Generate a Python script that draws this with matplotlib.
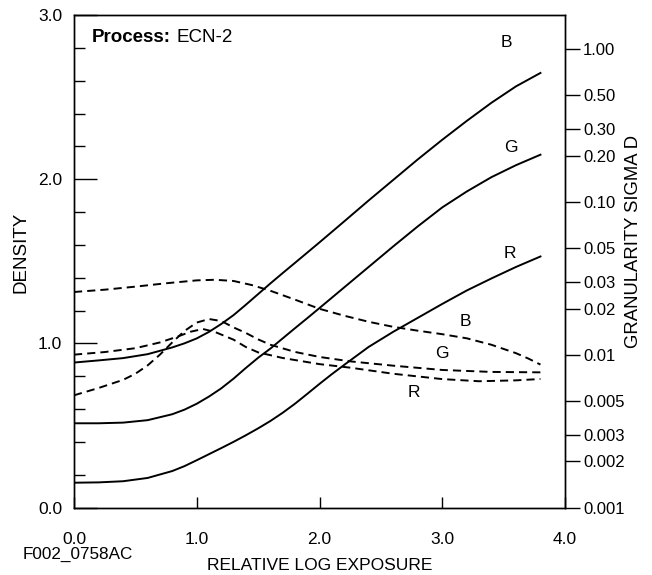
import matplotlib
matplotlib.use("Agg")
import matplotlib.pyplot as plt
from matplotlib.ticker import FixedLocator, FixedFormatter, NullLocator

plt.rcParams['font.family'] = ['Liberation Sans', 'DejaVu Sans']

# ---- Characteristic curves (density vs relative log exposure) ----
x_b = [0.0, 0.2, 0.4, 0.6, 0.8, 0.9, 1.0, 1.1, 1.2, 1.3, 1.4, 1.5, 1.6, 1.7, 1.8, 2.0,
       2.2, 2.4, 2.6, 2.8, 3.0, 3.2, 3.4, 3.6, 3.8]
d_b = [0.883, 0.896, 0.910, 0.934, 0.975, 1.000, 1.030, 1.070, 1.118, 1.172, 1.235, 1.300,
       1.365, 1.428, 1.490, 1.615, 1.742, 1.870, 1.995, 2.120, 2.240, 2.355, 2.465, 2.565, 2.647]

x_g = [0.0, 0.2, 0.4, 0.6, 0.8, 0.9, 1.0, 1.1, 1.2, 1.3, 1.4, 1.5, 1.6, 1.7, 1.8, 1.9, 2.0,
       2.2, 2.4, 2.6, 2.8, 3.0, 3.2, 3.4, 3.6, 3.8]
d_g = [0.513, 0.513, 0.517, 0.532, 0.568, 0.596, 0.632, 0.676, 0.726, 0.785, 0.850, 0.912,
       0.968, 1.030, 1.092, 1.153, 1.215, 1.340, 1.465, 1.590, 1.712, 1.828, 1.925, 2.012,
       2.085, 2.149]

x_r = [0.0, 0.2, 0.4, 0.6, 0.8, 0.9, 1.0, 1.1, 1.2, 1.3, 1.4, 1.5, 1.6, 1.7, 1.8, 1.9, 2.0,
       2.1, 2.2, 2.4, 2.6, 2.8, 3.0, 3.2, 3.4, 3.6, 3.8]
d_r = [0.151, 0.153, 0.160, 0.180, 0.222, 0.252, 0.288, 0.325, 0.362, 0.400, 0.440, 0.482,
       0.527, 0.577, 0.632, 0.692, 0.753, 0.812, 0.868, 0.978, 1.070, 1.155, 1.240, 1.322,
       1.395, 1.465, 1.529]

# ---- Granularity curves (sigma D, right log axis) ----
gx_b = [0.0, 0.25, 0.5, 0.75, 1.0, 1.15, 1.3, 1.45, 1.6, 1.8, 2.0, 2.2, 2.4, 2.6, 2.8,
        3.0, 3.2, 3.4, 3.6, 3.7, 3.8]
gs_b = [0.02570, 0.02661, 0.02786, 0.02931, 0.03062, 0.03090, 0.03034, 0.02851, 0.02618,
        0.02291, 0.01995, 0.01799, 0.01641, 0.01521, 0.01435, 0.01361, 0.01279, 0.01161,
        0.01023, 0.00944, 0.00861]

gx_g = [0.0, 0.2, 0.4, 0.5, 0.6, 0.7, 0.8, 0.9, 1.0, 1.1, 1.2, 1.3, 1.4, 1.5, 1.6, 1.8,
        2.0, 2.25, 2.6, 3.0, 3.4, 3.8]
gs_g = [0.00542, 0.00605, 0.00684, 0.00750, 0.00851, 0.01000, 0.01202, 0.01429, 0.01622,
        0.01710, 0.01660, 0.01507, 0.01387, 0.01259, 0.01161, 0.01042, 0.00966, 0.00904,
        0.00847, 0.00794, 0.00771, 0.00766]

gx_r = [0.0, 0.25, 0.5, 0.7, 0.85, 0.95, 1.05, 1.15, 1.3, 1.4, 1.5, 1.7, 2.0, 2.25, 2.6,
        3.0, 3.3, 3.6, 3.8]
gs_r = [0.01000, 0.01040, 0.01102, 0.01202, 0.01318, 0.01413, 0.01472, 0.01406, 0.01253,
        0.01122, 0.01035, 0.00951, 0.00867, 0.00822, 0.00750, 0.00692, 0.00670, 0.00679,
        0.00693]

x_ticks = [0.0, 1.0, 2.0, 3.0, 4.0]
x_labels = ["0.0", "1.0", "2.0", "3.0", "4.0"]
y_major = [0.0, 1.0, 2.0, 3.0]
y_labels = ["0.0", "1.0", "2.0", "3.0"]
y_minor = [0.2, 0.4, 0.6, 0.8, 1.2, 1.4, 1.6, 1.8, 2.2, 2.4, 2.6, 2.8]
r_ticks = [1.0, 0.5, 0.3, 0.2, 0.1, 0.05, 0.03, 0.02, 0.01, 0.005, 0.003, 0.002, 0.001]
r_labels = ["1.00", "0.50", "0.30", "0.20", "0.10", "0.05", "0.03", "0.02", "0.01",
            "0.005", "0.003", "0.002", "0.001"]

W, H = 652, 575
fig = plt.figure(figsize=(W / 100, H / 100), dpi=100)
ax = fig.add_axes([74 / W, 1 - 507.5 / H, (565 - 74) / W, (507.5 - 15) / H])

lw = 1.4
dash = (0, (4.2, 2.6))

for xs, ys in [(x_b, d_b), (x_g, d_g), (x_r, d_r)]:
    ax.plot(xs, ys, color='black', lw=lw, solid_joinstyle='round')

ax.set_xlim(0, 4)
ax.set_ylim(0, 3)
ax.xaxis.set_major_locator(FixedLocator(x_ticks))
ax.xaxis.set_major_formatter(FixedFormatter(x_labels))
ax.yaxis.set_major_locator(FixedLocator(y_major))
ax.yaxis.set_major_formatter(FixedFormatter(y_labels))
ax.yaxis.set_minor_locator(FixedLocator(y_minor))
ax.tick_params(axis='x', which='major', direction='in', length=8, width=1.0,
               labelsize=12.5, pad=17.5)
ax.tick_params(axis='y', which='major', direction='in', length=16.5, width=1.0,
               labelsize=12.5, pad=8.5)
ax.tick_params(axis='y', which='minor', direction='in', length=8, width=1.0)
for sp in ax.spines.values():
    sp.set_linewidth(1.0)

ax2 = ax.twinx()
ax2.set_yscale('log')
ax2.set_ylim(0.001, 10 ** ((508 - 15) / 153 - 3))
for xs, ys in [(gx_b, gs_b), (gx_g, gs_g), (gx_r, gs_r)]:
    ax2.plot(xs, ys, color='black', lw=lw, linestyle=dash)
ax2.yaxis.set_major_locator(FixedLocator(r_ticks))
ax2.yaxis.set_major_formatter(FixedFormatter(r_labels))
ax2.yaxis.set_minor_locator(NullLocator())
ax2.tick_params(axis='y', which='major', direction='out', length=11, width=1.0,
                labelsize=12, pad=2)
for sp in ax2.spines.values():
    sp.set_linewidth(1.0)

# curve labels
for tx, ty, s in [(3.52, 2.83, "B"), (3.56, 2.19, "G"), (3.55, 1.55, "R"),
                  (3.19, 1.13, "B"), (3.00, 0.936, "G"), (2.77, 0.698, "R")]:
    ax.text(tx, ty, s, fontsize=12.5, ha='center', va='center')

# Process text
t1 = fig.text(92 / W, 1 - 38 / H, "Process:", fontsize=13.5, fontweight='bold',
              va='center', ha='left')
fig.canvas.draw()
bb = t1.get_window_extent()
fig.text((bb.x1 + 5) / W, 1 - 38 / H, "ECN-2", fontsize=13.5, va='center', ha='left')

fig.text(21 / W, 1 - 252 / H, "DENSITY", fontsize=13.5, rotation=90, ha='center', va='center')
fig.text(634 / W, 1 - 241 / H, "GRANULARITY SIGMA D", fontsize=13.3, rotation=90,
         ha='center', va='center')
fig.text(319.5 / W, 1 - 565 / H, "RELATIVE LOG EXPOSURE", fontsize=12.5, ha='center', va='center')
fig.text(23 / W, 1 - 554 / H, "F002_0758AC", fontsize=12.3, ha='left', va='center')

fig.savefig("out.png", dpi=100)
